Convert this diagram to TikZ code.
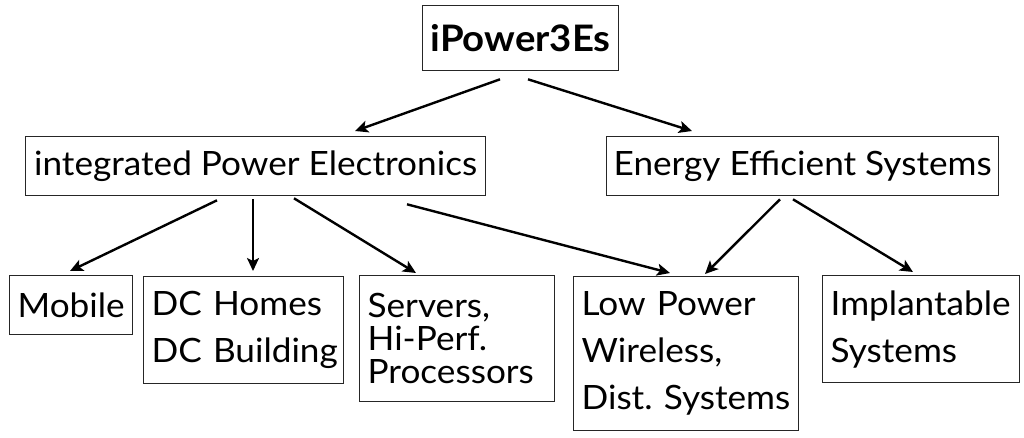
\documentclass[tikz,border=0pt]{standalone}
\usepackage{fontspec}
\setmainfont{Lato}[FakeStretch=1.05]
\usetikzlibrary{arrows.meta,calc}
\frenchspacing
\hyphenpenalty=10000
\exhyphenpenalty=10000
\begin{document}
\begin{tikzpicture}[x=1pt,y=-1pt,
  box/.style={draw=black!85, line width=1.3pt, anchor=north west, inner xsep=0pt, inner ysep=0pt},
  leaf/.style={box, align=left, inner xsep=8pt, font=\fontsize{33.5}{47}\selectfont},
  mid/.style={box, font=\fontsize{33.5}{38}\selectfont},
  arr/.style={line width=2.4pt, -{Stealth[length=13pt,width=12pt,inset=3pt]}}]
\useasboundingbox (0,0) rectangle (1024,437);
\fill[white] (0,0) rectangle (1024,437);
\node[box, minimum width=196pt, minimum height=65pt, font=\fontsize{36.5}{40}\selectfont\bfseries] (top) at (422,5) {iPower3Es};
\node[mid, minimum width=460pt, minimum height=59pt] (ipe) at (25,136) {integrated Power Electronics};
\node[mid, minimum width=392pt, minimum height=59pt] (ees) at (606,136) {Energy Efficient Systems};
\node[leaf, minimum width=123pt, text width=107pt, minimum height=59pt] (mob) at (9,275) {Mobile};
\node[leaf, minimum width=200pt, text width=184pt, minimum height=107pt] (dc) at (143,276) {DC~Homes\\DC~Building};
\node[leaf, minimum width=195pt, text width=179pt, minimum height=126pt, font=\fontsize{33.5}{33}\selectfont] (srv) at (359,275) {Servers,\\Hi-Perf.\\Processors};
\node[leaf, minimum width=225pt, text width=209pt, minimum height=154pt] (lp) at (573,276) {Low~Power\\Wireless,\\Dist.~Systems};
\node[leaf, minimum width=197pt, text width=181pt, minimum height=107pt] (imp) at (822,275) {Implantable\\Systems};
\draw[arr] ($(top.south west)+(78,8)$) -- ($(ipe.north west)+(330,-5)$);
\draw[arr] ($(top.south west)+(106,8)$) -- ($(ees.north west)+(86,-5)$);
\draw[arr] ($(ipe.south west)+(192,4)$) -- ($(mob.north west)+(61,-4)$);
\draw[arr] ($(ipe.south west)+(228,3)$) -- ($(dc.north west)+(110,-5)$);
\draw[arr] ($(ipe.south west)+(269,2)$) -- ($(srv.north west)+(57,-2)$);
\draw[arr] ($(ipe.south west)+(382,8)$) -- ($(lp.north west)+(97,-3)$);
\draw[arr] ($(ees.south west)+(174,3)$) -- ($(lp.north west)+(132,-2)$);
\draw[arr] ($(ees.south west)+(187,3)$) -- ($(imp.north west)+(91,-3)$);
\end{tikzpicture}
\end{document}
